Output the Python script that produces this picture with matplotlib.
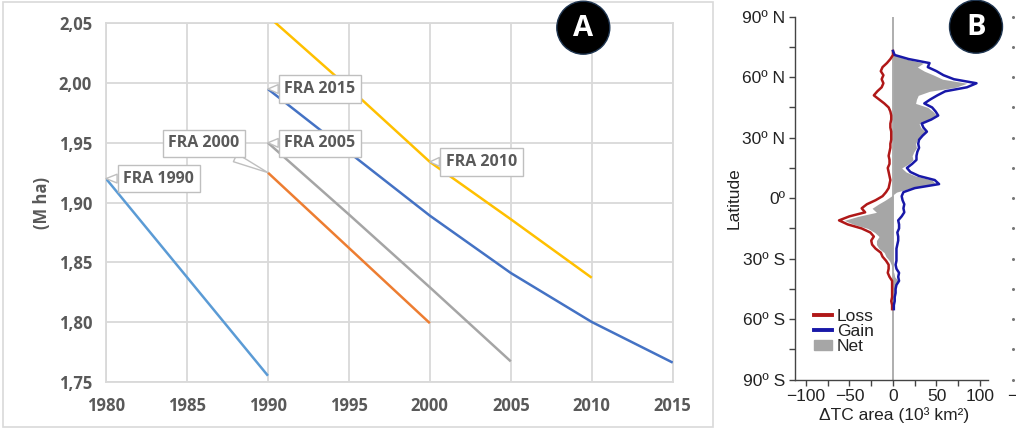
import matplotlib
matplotlib.use("Agg")
import matplotlib.pyplot as plt
import matplotlib.transforms as mtransforms
from matplotlib.patches import Rectangle, Ellipse, Patch
from matplotlib.lines import Line2D

# ---------------- Panel A: FRA estimates (M ha) ----------------
years_fra1990 = [1980, 1990]
area_fra1990 = [1.920, 1.755]

years_fra2000 = [1990, 1995, 2000]
area_fra2000 = [1.925, 1.862, 1.799]

years_fra2005 = [1990, 1995, 2000, 2005]
area_fra2005 = [1.950, 1.890, 1.829, 1.767]

years_fra2010 = [1990, 1995, 2000, 2005, 2010]
area_fra2010 = [2.056, 1.996, 1.934, 1.886, 1.837]

years_fra2015 = [1990, 1995, 2000, 2005, 2010, 2015]
area_fra2015 = [1.995, 1.942, 1.889, 1.841, 1.800, 1.766]

year_ticks = [1980, 1985, 1990, 1995, 2000, 2005, 2010, 2015]
area_ticks = [1.75, 1.80, 1.85, 1.90, 1.95, 2.00, 2.05]
area_tick_labels = ["1,75", "1,80", "1,85", "1,90", "1,95", "2,00", "2,05"]

# ---------------- Panel B: tree cover change by latitude ----------------
latitude = [73, 71, 69, 67, 65, 63, 61, 59, 57, 55, 53, 51, 49, 47, 45, 43, 41,
            39, 37, 35, 33, 31, 29, 27, 25, 23, 21, 19, 17, 15, 13, 11, 9, 7,
            5, 3, 1, -1, -3, -5, -7, -9, -11, -13, -15, -17, -19, -21, -23,
            -25, -27, -29, -31, -33, -35, -37, -39, -41, -43, -45, -47, -49,
            -51, -53, -55]
gain = [0, 2, 18, 42, 40, 50, 58, 70, 96, 85, 60, 51, 43, 36, 45, 49, 52,
        44, 33, 35, 39, 34, 30, 29, 30, 28, 27, 27, 22, 16, 20, 30, 48, 53,
        25, 12, 10, 11, 13, 12, 13, 10, 6, 7, 7, 5, 6, 6, 5,
        4, 4, 4, 4, 3, 4, 7, 6, 7, 4, 3, 3, 2,
        2, 1, 1]
loss = [0, 0, -3, -7, -12, -14, -11, -13, -11, -13, -18, -22, -16, -10, -5, -3, -2,
        -2, -3, -3, -2, -2, -2, -3, -3, -4, -5, -4, -4, -6, -5, -4, -3, -4,
        -5, -8, -12, -20, -30, -36, -32, -50, -62, -52, -36, -26, -22, -25, -24,
        -20, -14, -12, -8, -5, -5, -6, -4, -1, -1, -1, -1, -1,
        -2, -1, -1]
net = [0, 2, 15, 35, 28, 36, 47, 57, 85, 72, 42, 29, 27, 26, 40, 46, 50,
       42, 30, 32, 37, 32, 28, 26, 27, 24, 22, 23, 18, 10, 15, 26, 45, 49,
       20, 4, -2, -9, -17, -24, -19, -40, -56, -45, -29, -21, -16, -19, -19,
       -16, -10, -8, -4, -2, -1, 1, 2, 6, 3, 2, 2, 1,
       0, 0, 0]
lat_ticks = [-90, -60, -30, 0, 30, 60, 90]
lat_tick_labels = ["90º S", "60º S", "30º S", "0º", "30º N", "60º N", "90º N"]
change_ticks = [-100, -50, 0, 50, 100]
change_tick_labels = ["\u2212100", "\u221250", "0", "50", "100"]

W, H = 1016, 428
fig = plt.figure(figsize=(W / 100, H / 100), dpi=100)

def fx(px):
    return px / W

def fy(py):
    return 1 - py / H

# ----- panel A -----
grey_txt = "#595959"
grid_c = "#D9D9D9"
fontA = "Open Sans"

fig.add_artist(Rectangle((fx(3), fy(427)), fx(710), (425) / H, transform=fig.transFigure,
                         fill=False, ec=grid_c, lw=1.2))

axA = fig.add_axes([fx(106), fy(381.7), fx(566.7), 358.4 / H])
axA.set_xlim(1980, 2015)
axA.set_ylim(1.75, 2.05)
axA.set_xticks(year_ticks)
axA.set_yticks(area_ticks)
axA.set_yticklabels(area_tick_labels)
axA.grid(True, color=grid_c, lw=1.3)
axA.set_axisbelow(True)
for sp in axA.spines.values():
    sp.set_color(grid_c)
    sp.set_linewidth(1.3)
axA.tick_params(length=0, labelsize=12, labelcolor=grey_txt)
axA.tick_params(axis="x", pad=11)
axA.tick_params(axis="y", pad=10)
for lab in axA.get_xticklabels() + axA.get_yticklabels():
    lab.set_fontfamily(fontA)
    lab.set_fontweight("bold")

series = [
    (years_fra1990, area_fra1990, "#5B9BD5", "FRA 1990", (38, 0)),
    (years_fra2000, area_fra2000, "#ED7D31", "FRA 2000", (-46, 21)),
    (years_fra2005, area_fra2005, "#A5A5A5", "FRA 2005", (37.5, -0.5)),
    (years_fra2010, area_fra2010, "#FFC000", "FRA 2010", (37, 0)),
    (years_fra2015, area_fra2015, "#4472C4", "FRA 2015", (37.5, 0)),
]
for xs, ys, col, name, off in series:
    axA.plot(xs, ys, color=col, lw=1.8, solid_capstyle="butt", zorder=3)

# callout anchors: FRA 2010 label points at its 2000 value
anchor_idx = {"FRA 1990": 0, "FRA 2000": 0, "FRA 2005": 0, "FRA 2010": 2, "FRA 2015": 0}
for xs, ys, col, name, off in series:
    i = anchor_idx[name]
    axA.annotate(name, xy=(xs[i], ys[i]), xytext=off, textcoords="offset points",
                 ha="center", va="center", fontsize=11.5, fontweight="bold",
                 family=fontA, color=grey_txt, zorder=5,
                 bbox=dict(boxstyle="square,pad=0.36", fc="white", ec="#BFBFBF", lw=1),
                 arrowprops=dict(arrowstyle="wedge,tail_width=0.55,shrink_factor=0.5",
                                 fc="white", ec="#BFBFBF", lw=1, shrinkA=0, shrinkB=0))

fig.text(fx(42), fy(203), "(M ha)", rotation=90, ha="center", va="center",
         fontsize=12, fontweight="bold", family=fontA, color=grey_txt)

# ----- panel B -----
fontB = "Liberation Sans"
fsB = 12.5
axB = fig.add_axes([fx(795), fy(379.7), fx(193), 363 / H])
axB.set_xlim(-112.6, 109.2)
axB.set_ylim(-90, 90)
axB.axvline(0, color="#A8A8A8", lw=1.3, zorder=1)
axB.fill_betweenx(latitude, 0, net, color="#A6A6A6", lw=0, zorder=2)
axB.plot(loss, latitude, color="#B01818", lw=1.8, zorder=3)
axB.plot(gain, latitude, color="#1818A8", lw=1.8, zorder=3)
axB.spines["top"].set_visible(False)
axB.spines["right"].set_visible(False)
for sp in ("left", "bottom"):
    axB.spines[sp].set_color("#444444")
    axB.spines[sp].set_linewidth(1.0)
axB.set_yticks(lat_ticks)
axB.set_yticklabels(lat_tick_labels)
axB.set_yticks(range(-75, 90, 30), minor=True)
axB.set_xticks(change_ticks)
axB.set_xticklabels(change_tick_labels)
axB.set_xticks(range(-75, 100, 50), minor=True)
axB.tick_params(which="both", direction="out", length=4, width=1, color="#444444",
                labelsize=fsB, labelcolor="#222222", pad=3)
for lab in axB.get_xticklabels() + axB.get_yticklabels():
    lab.set_fontfamily(fontB)

handles = [Line2D([], [], color="#B01818", lw=2.8),
           Line2D([], [], color="#1818A8", lw=2.8),
           Patch(color="#A6A6A6")]
leg = axB.legend(handles, ["Loss", "Gain", "Net"], loc="upper left",
                 bbox_to_anchor=(0.10, 0.195), frameon=False, borderpad=0,
                 borderaxespad=0, handlelength=1.0, handleheight=0.55,
                 handletextpad=0.3, labelspacing=0.0,
                 prop={"family": fontB, "size": fsB})
for t in leg.get_texts():
    t.set_color("#222222")

fig.text(fx(734), fy(198), "Latitude", rotation=90, ha="center", va="center",
         fontsize=fsB, family=fontB, color="#222222")
fig.text(fx(894), fy(415), "\u0394TC area (10\u00b3 km\u00b2)", ha="center", va="center",
         fontsize=fsB, family=fontB, color="#222222")

# cut-off neighbour panel on the far right
blend = mtransforms.blended_transform_factory(fig.transFigure, axB.transData)
fig.add_artist(Line2D([fx(1013)] * 13, list(range(-90, 91, 15)), transform=blend,
                      ls="none", marker="o", ms=1.2, color="#777777"))
fig.text(fx(1012), fy(396), "\u2212", ha="center", va="center", fontsize=fsB,
         family=fontB, color="#222222")

# ----- panel badges -----
for cx, cy, letter in [(583.3, 27.7, "A"), (976, 26.7, "B")]:
    fig.add_artist(Ellipse((fx(cx), fy(cy)), 53 / W, 53 / H, transform=fig.transFigure,
                           fc="black", ec="#1F3550", lw=1, zorder=10))
    fig.text(fx(cx), fy(cy + 1), letter, ha="center", va="center", color="white",
             fontsize=21, fontweight="bold", family=fontA, zorder=11)

fig.savefig("out.png", dpi=100)
